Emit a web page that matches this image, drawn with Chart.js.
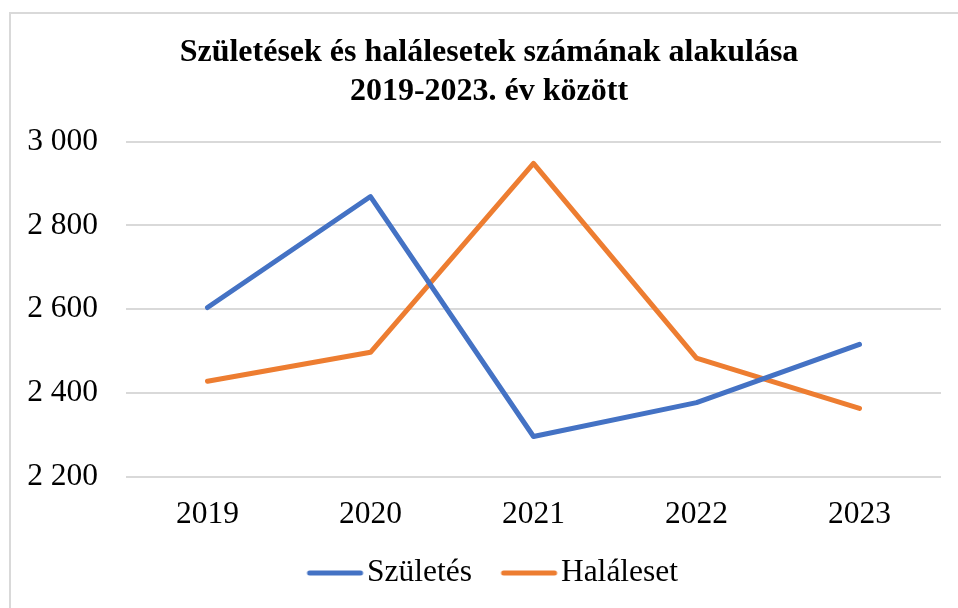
<!DOCTYPE html>
<html>
<head>
<meta charset="utf-8">
<script src="https://cdn.jsdelivr.net/npm/chart.js@4/dist/chart.umd.min.js"></script>
<style>
    body { margin: 0; background: #fff; }
    #wrap { position: relative; width: 958px; height: 608px; overflow: hidden; }
    #frame { position: absolute; left: 9px; top: 12px; right: -10px; bottom: -10px;
             border-left: 2px solid #d9d9d9; border-top: 2px solid #d9d9d9; }
    #chart { position: absolute; left: 0; top: 0; }
</style>
</head>
<body>
<div id="wrap">
    <div id="frame"></div>
    <canvas id="chart" width="958" height="608"></canvas>
</div>
<script>
const years = ['2019', '2020', '2021', '2022', '2023'];
const szuletes = [2604, 2869, 2296, 2377, 2516];
const halaleset = [2428, 2497, 2948, 2483, 2363];
const seriesNames = ['Születés', 'Haláleset'];
const titleLines = ['Születések és halálesetek számának alakulása', '2019-2023. év között'];
const yMin = 2200;
const yMax = 3000;
const yStep = 200;

const blue = '#4472C4';
const orange = '#ED7D31';
const serif = "'Liberation Serif', 'Times New Roman', serif";

// legend sample: a short thick line, drawn into a small canvas
function legendLine(color) {
    const c = document.createElement('canvas');
    c.width = 90;
    c.height = 10;
    const g = c.getContext('2d');
    g.strokeStyle = color;
    g.lineWidth = 5;
    g.lineCap = 'round';
    g.beginPath();
    g.moveTo(35, 5);
    g.lineTo(86, 5);
    g.stroke();
    return c;
}
const legendImgs = [legendLine(blue), legendLine(orange)];

// title sits a little right of the canvas centre
const nudgeTitle = {
    id: 'nudgeTitle',
    afterLayout(chart) {
        chart.titleBlock.left += 6;
        chart.titleBlock.right += 6;
    }
};

const ctx = document.getElementById('chart').getContext('2d');
// eslint-disable-next-line no-undef, no-unused-vars
const myChart = new Chart(ctx, {
    type: 'line',
    data: {
        labels: years,
        datasets: [{
            label: seriesNames[0],
            data: szuletes,
            borderColor: blue,
            backgroundColor: blue,
            borderWidth: 5,
            borderCapStyle: 'round',
            borderJoinStyle: 'round',
            pointRadius: 0,
            tension: 0
        },
        {
            label: seriesNames[1],
            data: halaleset,
            borderColor: orange,
            backgroundColor: orange,
            borderWidth: 5,
            borderCapStyle: 'round',
            borderJoinStyle: 'round',
            pointRadius: 0,
            tension: 0
        }]
    },
    plugins: [nudgeTitle],
    options: {
        responsive: false,
        animation: false,
        layout: {
            padding: { left: 25, right: 17, top: 0, bottom: 9.25 }
        },
        plugins: {
            title: {
                display: true,
                text: titleLines,
                color: '#000',
                font: { family: serif, size: 32, weight: 'bold', lineHeight: 39 / 32 },
                padding: { top: 33, bottom: 30.7 }
            },
            legend: {
                position: 'bottom',
                labels: {
                    usePointStyle: true,
                    pointStyleWidth: 63.25,
                    padding: 10,
                    color: '#000',
                    font: { family: serif, size: 31.5 },
                    generateLabels: (chart) => Chart.defaults.plugins.legend.labels.generateLabels(chart)
                        .map((l, i) => ({ ...l, pointStyle: legendImgs[i] }))
                }
            },
            tooltip: { enabled: false }
        },
        scales: {
            x: {
                offset: true,
                grid: { display: false, drawTicks: false },
                border: { display: false },
                ticks: {
                    padding: 19,
                    color: '#000',
                    font: { family: serif, size: 31.5 }
                },
                afterFit: (scale) => { scale.height = 70.55; }
            },
            y: {
                min: yMin,
                max: yMax,
                grid: { color: '#d9d9d9', lineWidth: 2, drawTicks: false },
                border: { display: false },
                ticks: {
                    stepSize: yStep,
                    padding: 28,
                    color: '#000',
                    font: { family: serif, size: 31.5 },
                    callback: (v) => String(v).replace(/\B(?=(\d{3})+(?!\d))/g, ' ')
                },
                afterFit: (scale) => { scale.width = 101; }
            }
        }
    }
});
</script>
</body>
</html>
